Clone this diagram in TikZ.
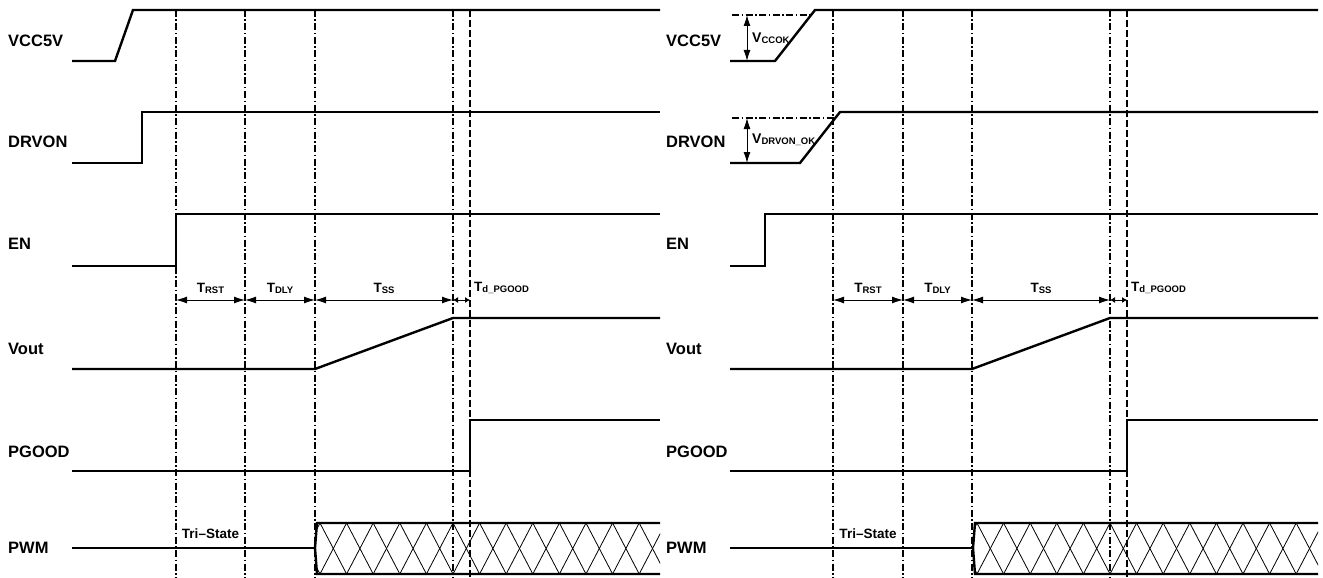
\documentclass[tikz,border=0pt]{standalone}
\usepackage{fontspec}
\setmainfont{Liberation Sans}
\usetikzlibrary{arrows.meta}
\newcommand\Tsub[2]{#1\raisebox{-1pt}{\fontsize{9.5}{10}\selectfont #2}}
\begin{document}
\begin{tikzpicture}[x=1pt,y=-1pt,
  sig/.style={line width=2.4pt, line join=miter},
  dashdot/.style={line width=1.1pt, dash pattern=on 7pt off 2.5pt on 1.5pt off 2.5pt},
  dashline/.style={line width=1.3pt, dash pattern=on 7pt off 3pt},
  lbl/.style={font=\fontsize{16.5}{18}\selectfont\bfseries, anchor=west, inner sep=0pt},
  tlbl/.style={font=\fontsize{13.5}{15}\selectfont\bfseries, inner sep=0pt},
  vlbl/.style={font=\fontsize{14}{15}\selectfont\bfseries, anchor=west, inner sep=0pt},
  dim/.style={line width=1pt, {Latex[length=11pt,width=7pt]}-{Latex[length=11pt,width=7pt]}},
  smalldim/.style={line width=1pt, {Latex[length=5pt,width=6pt]}-{Latex[length=5pt,width=6pt]}},
  hatch/.style={line width=0.8pt}]
\useasboundingbox (0,0) rectangle (1323,578);

% ================= LEFT PANEL =================
\node[lbl] (lvcc) at (8,41) {VCC5V};
\node[lbl] (ldrv) at (8,142) {DRVON};
\node[lbl] (len) at (8,244) {EN};
\node[lbl] (lvout) at (8,349) {Vout};
\node[lbl] (lpg) at (8,452) {PGOOD};
\node[lbl] (lpwm) at (8,548) {PWM};

% vertical markers
\foreach \x in {176,245,315,453} \draw[dashdot] (\x,10) -- (\x,578);
\draw[dashline] (470,10) -- (470,578);

% waveforms
\draw[sig] (72,61) -- (115,61) -- (133,10) -- (660,10);
\draw[sig] (72,163) -- (142,163) -- (142,112) -- (660,112);
\draw[sig] (72,266) -- (176,266) -- (176,214) -- (660,214);
\draw[sig] (72,369) -- (315,369) -- (453,318) -- (660,318);
\draw[sig] (72,471) -- (470,471) -- (470,420) -- (660,420);
\draw[sig] (72,548) -- (315,548);
\begin{scope}
  \clip (317,523) rectangle (660,574);
  \foreach \k in {-1,...,13} {
    \draw[hatch] ({320+26.6*\k},523) -- ({320+26.6*(\k+1)},574);
    \draw[hatch] ({320+26.6*\k},574) -- ({320+26.6*(\k+1)},523);
  }
\end{scope}
\draw[sig] (660,523) -- (317,523) -- (315,548) -- (317,574) -- (660,574);

% timing arrows
\coordinate (la) at (176,300); \coordinate (lb) at (245,300);
\coordinate (lc) at (315,300); \coordinate (ld) at (453,300);
\coordinate (le) at (470,300);
\draw[dim] (la) -- (lb);
\draw[dim] (lb) -- (lc);
\draw[dim] (lc) -- (ld);
\draw[smalldim] (ld) -- (le);
\node[tlbl] (ltrst) at (210.5,288) {\Tsub{T}{RST}};
\node[tlbl] (ltdly) at (280,288) {\Tsub{T}{DLY}};
\node[tlbl] (ltss) at (384,288) {\Tsub{T}{SS}};
\node[tlbl, anchor=west] (ltpg) at (474,288) {\Tsub{T}{d\_PGOOD}};
\node[font=\fontsize{13.5}{14}\selectfont\bfseries, inner sep=0pt] (ltri) at (210.5,534) {Tri--State};

% ================= RIGHT PANEL =================
\node[lbl] (rvcc) at (666,41) {VCC5V};
\node[lbl] (rdrv) at (666,142) {DRVON};
\node[lbl] (ren) at (666,244) {EN};
\node[lbl] (rvout) at (666,349) {Vout};
\node[lbl] (rpg) at (666,452) {PGOOD};
\node[lbl] (rpwm) at (666,548) {PWM};

\foreach \x in {833,903,972,1110} \draw[dashdot] (\x,10) -- (\x,578);
\draw[dashline] (1127,10) -- (1127,578);

% threshold annotations
\coordinate (vt1) at (732,15); \coordinate (vt1e) at (811,15);
\coordinate (vt2) at (732,118); \coordinate (vt2e) at (835,118);
\draw[dashdot] (vt1) -- (vt1e);
\draw[dashdot] (vt2) -- (vt2e);
\coordinate (va) at (747,15); \coordinate (vb) at (747,61);
\coordinate (vc) at (747,118); \coordinate (vd) at (747,163);
\draw[dim] (va) -- (vb);
\draw[dim] (vc) -- (vd);
\node[vlbl] (vccok) at (752,38) {\Tsub{V}{CCOK}};
\node[vlbl] (vdrvok) at (752,140) {\Tsub{V}{DRVON\_OK}};

\draw[sig] (730,61) -- (775,61) -- (815,10) -- (1318,10);
\draw[sig] (730,163) -- (800,163) -- (840,112) -- (1318,112);
\draw[sig] (730,266) -- (765,266) -- (765,214) -- (1318,214);
\draw[sig] (730,369) -- (972,369) -- (1110,318) -- (1318,318);
\draw[sig] (730,471) -- (1127,471) -- (1127,420) -- (1318,420);
\draw[sig] (730,548) -- (973,548);
\begin{scope}
  \clip (975,523) rectangle (1318,574);
  \foreach \k in {-1,...,13} {
    \draw[hatch] ({977+26.6*\k},523) -- ({977+26.6*(\k+1)},574);
    \draw[hatch] ({977+26.6*\k},574) -- ({977+26.6*(\k+1)},523);
  }
\end{scope}
\draw[sig] (1318,523) -- (975,523) -- (973,548) -- (975,574) -- (1318,574);

\coordinate (ra) at (833,300); \coordinate (rb) at (903,300);
\coordinate (rc) at (972,300); \coordinate (rd) at (1110,300);
\coordinate (re) at (1127,300);
\draw[dim] (ra) -- (rb);
\draw[dim] (rb) -- (rc);
\draw[dim] (rc) -- (rd);
\draw[smalldim] (rd) -- (re);
\node[tlbl] (rtrst) at (868,288) {\Tsub{T}{RST}};
\node[tlbl] (rtdly) at (937.5,288) {\Tsub{T}{DLY}};
\node[tlbl] (rtss) at (1041,288) {\Tsub{T}{SS}};
\node[tlbl, anchor=west] (rtpg) at (1131,288) {\Tsub{T}{d\_PGOOD}};
\node[font=\fontsize{13.5}{14}\selectfont\bfseries, inner sep=0pt] (rtri) at (868,534) {Tri--State};
\end{tikzpicture}
\end{document}
